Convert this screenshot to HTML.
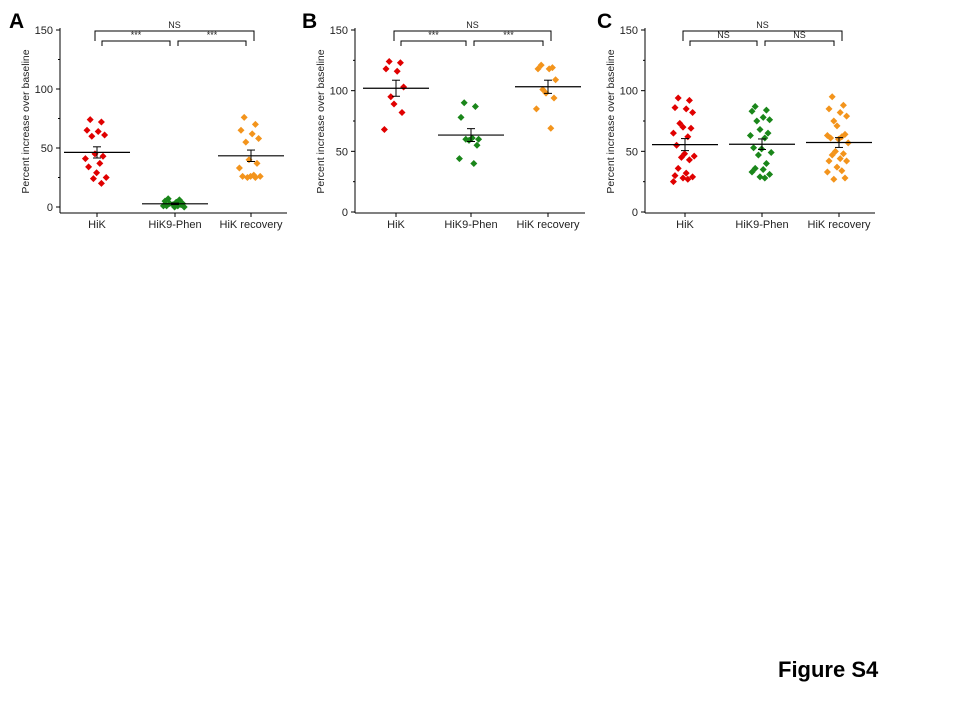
<!DOCTYPE html>
<html><head><meta charset="utf-8"><style>
body{margin:0;background:#fff;width:960px;height:720px;overflow:hidden}
svg{font-family:"Liberation Sans",Arial,sans-serif}
</style></head><body>
<svg id="fig" width="960" height="720">
<text x="778" y="677" font-size="22" font-weight="bold">Figure S4</text>
</svg>
<script>
const categories=["HiK","HiK9-Phen","HiK recovery"];
const colors=["#e00000","#1a861a","#f3941c"];
const yTicks=[0,50,100,150];
const aHiK=[74,72,65,64,61,60,45,43,41,37,34,29,25,24,20];
const aPhen=[7,6,5,4,3,3,2,2,1,1,1,0,0];
const aRec=[76,70,65,62,58,55,40,37,33,27,26,26,26,25,25];
const aSig=["***","***","NS"];
const bHiK=[124,123,118,116,103,95,89,82,68];
const bPhen=[90,87,78,61,60,60,59,55,44,40];
const bRec=[121,119,118,118,109,101,98,94,85,69];
const bSig=["***","***","NS"];
const cHiK=[94,92,86,85,82,73,70,69,65,62,55,48,46,45,43,36,32,30,29,28,27,25];
const cPhen=[87,84,83,78,76,75,68,65,63,61,53,52,49,47,40,36,35,33,31,29,28];
const cRec=[95,88,85,82,79,75,71,64,63,62,61,60,57,50,48,47,44,42,42,37,34,33,28,27];
const cSig=["NS","NS","NS"];
const jitter=[-3,4,-5,2,6,-2,0,5,-6,3,-4,1,7,-1,4,-3,2,-5,6,0,3,-6,5,-2];

const svg=document.getElementById('fig');
const NS='http://www.w3.org/2000/svg';
function mk(tag,attrs,parent){const e=document.createElementNS(NS,tag);for(const k in attrs)e.setAttribute(k,attrs[k]);(parent||svg).appendChild(e);return e;}
function mean(a){return a.reduce((s,v)=>s+v,0)/a.length;}
function sem(a){const m=mean(a);return Math.sqrt(a.reduce((s,v)=>s+(v-m)*(v-m),0)/(a.length-1))/Math.sqrt(a.length);}

const panels=[
 {letter:"A",lx:9,x0:60,x1:287,y0:207,cx:[97,175,251],data:[aHiK,aPhen,aRec],sig:aSig},
 {letter:"B",lx:302,x0:355,x1:585,y0:212,cx:[396,471,548],data:[bHiK,bPhen,bRec],sig:bSig},
 {letter:"C",lx:597,x0:645,x1:875,y0:212,cx:[685,762,839],data:[cHiK,cPhen,cRec],sig:cSig}
];
panels.forEach((p,pi)=>{
 const g=mk('g',{});
 
 
 const yTop=30;
 const y=v=>p.y0-(v/150)*(p.y0-yTop);
 const xAxisY=213;
 const t=mk('text',{x:p.lx,y:28,'font-size':21,'font-weight':'bold'},g);t.textContent=p.letter;
 
 
 const ya=mk('line',{x1:p.x0,y1:yTop-2,x2:p.x0,y2:xAxisY,stroke:'#000','stroke-width':1},g);
 
 
 const xa=mk('line',{x1:p.x0,y1:xAxisY,x2:p.x1,y2:xAxisY,stroke:'#000','stroke-width':1},g);
 
 
 yTicks.forEach(v=>{
  mk('line',{x1:p.x0-4,y1:y(v),x2:p.x0,y2:y(v),stroke:'#000'},g);
  const tl=mk('text',{x:p.x0-7,y:y(v)+4,'font-size':11,'text-anchor':'end',fill:'#222'},g);tl.textContent=v;
  
  
  if(v<150)mk('line',{x1:p.x0-2,y1:y(v+25),x2:p.x0,y2:y(v+25),stroke:'#000'},g);
 });
 const yt=mk('text',{x:0,y:0,'font-size':10.5,'text-anchor':'middle',fill:'#222',transform:`translate(${p.x0-31},${(yTop+xAxisY)/2}) rotate(-90)`},g);
 yt.textContent='Percent increase over baseline';
 
 
 categories.forEach((c,i)=>{
  const cx=p.cx[i];
  mk('line',{x1:cx,y1:xAxisY,x2:cx,y2:xAxisY+4,stroke:'#000'},g);
  const cl=mk('text',{x:cx,y:228,'font-size':11,'text-anchor':'middle',fill:'#222'},g);cl.textContent=c;
  
  
  const d=p.data[i];
  d.forEach((v,k)=>{
   const px=cx-2+jitter[k%jitter.length]*1.6,py=y(v);
   const pt=mk('path',{d:`M${px},${py-3.5}L${px+3.5},${py}L${px},${py+3.5}L${px-3.5},${py}Z`,fill:colors[i]},g);
   
   
  });
  const m=mean(d),s=sem(d);
  const ml=mk('line',{x1:cx-33,y1:y(m),x2:cx+33,y2:y(m),stroke:'#000','stroke-width':1.2},g);
  
  
  mk('line',{x1:cx,y1:y(m+s),x2:cx,y2:y(m-s),stroke:'#000'},g);
  mk('line',{x1:cx-4,y1:y(m+s),x2:cx+4,y2:y(m+s),stroke:'#000'},g);
  mk('line',{x1:cx-4,y1:y(m-s),x2:cx+4,y2:y(m-s),stroke:'#000'},g);
 });
 const br=(xa,xb,yb,h,label,name)=>{
  const b=mk('path',{d:`M${xa},${yb+h}V${yb}H${xb}V${yb+h}`,fill:'none',stroke:'#000'},g);
  
  
  const bt=mk('text',{x:(xa+xb)/2,y:yb-3,'font-size':9,'text-anchor':'middle',fill:'#222'},g);bt.textContent=label;
  
  
 };
 br(p.cx[0]+5,p.cx[0]-2+(p.cx[1]-p.cx[0])-3,41,5,p.sig[0],'bracket-1-2');
 br(p.cx[1]+3,p.cx[2]-5,41,5,p.sig[1],'bracket-2-3');
 br(p.cx[0]-2,p.cx[2]+3,31,10,p.sig[2],'bracket-1-3');
});
</script>
</body></html>
